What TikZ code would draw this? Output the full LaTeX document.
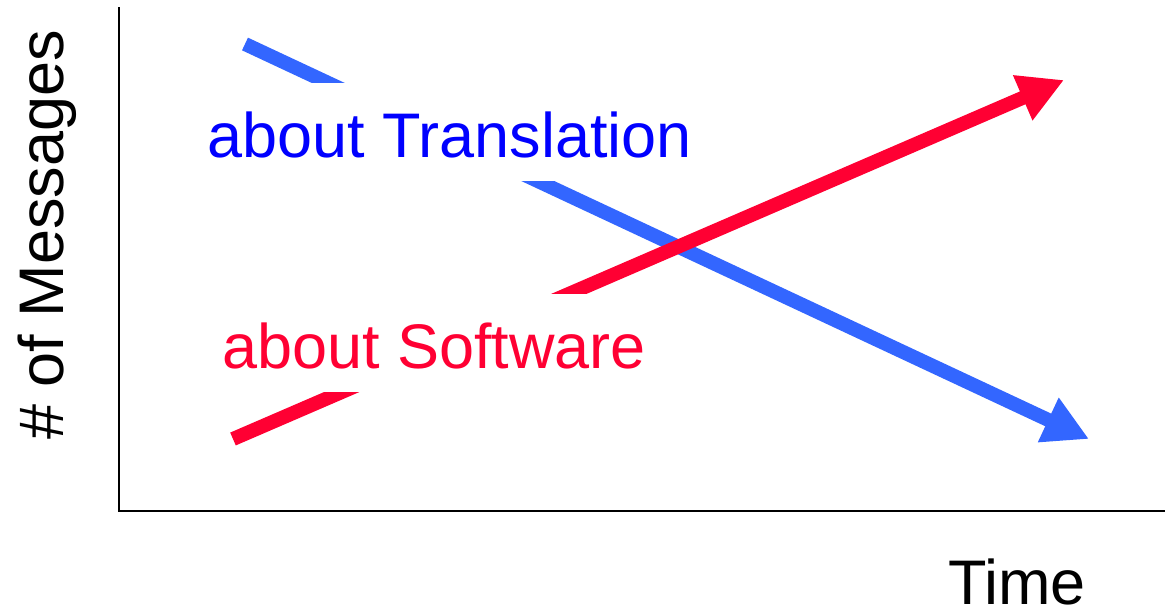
\documentclass[tikz,border=0pt]{standalone}
\usepackage{fontspec}
\setmainfont{Liberation Sans}
\usepackage{xcolor}
\usepackage{tikz}
\usetikzlibrary{arrows.meta}

\definecolor{trendblue}{RGB}{51,102,255}
\definecolor{labelblue}{RGB}{0,0,255}
\definecolor{trendred}{RGB}{255,0,51}

\begin{document}
\begin{tikzpicture}[x=1pt,y=-1pt,
    trend/.style={line width=14pt,-{Triangle[length=45pt,width=46pt]}},
    tag/.style={fill=white,inner sep=0pt,text height=74pt,text depth=24pt,anchor=base west,font=\fontsize{63}{70}\selectfont},
    axislabel/.style={inner sep=0pt,anchor=base west,font=\fontsize{63}{70}\selectfont}]
    \useasboundingbox (0,0) rectangle (1165,613);

    % Axes
    \coordinate (O) at (119,511);
    \coordinate (Ytop) at (119,7);
    \coordinate (Xend) at (1165,511);
    \draw[line width=2pt] (Ytop) -- (O) -- (Xend);

    % Trends
    \coordinate (B1) at (245,44);
    \coordinate (B2) at (1089,439);
    \coordinate (R1) at (233,439);
    \coordinate (R2) at (1064,80);
    \draw[trend,trendblue] (B1) -- (B2);
    \draw[trend,trendred] (R1) -- (R2);

    % Labels
    \node[tag,text=labelblue] (transl) at (207,157) {about Translation};
    \node[tag,text=trendred] (softw) at (222,368) {about Software};
    \node[axislabel,rotate=90] (ylab) at (63,440) {\# of Messages};
    \node[axislabel] (xlab) at (948,604) {Time};
\end{tikzpicture}
\end{document}
